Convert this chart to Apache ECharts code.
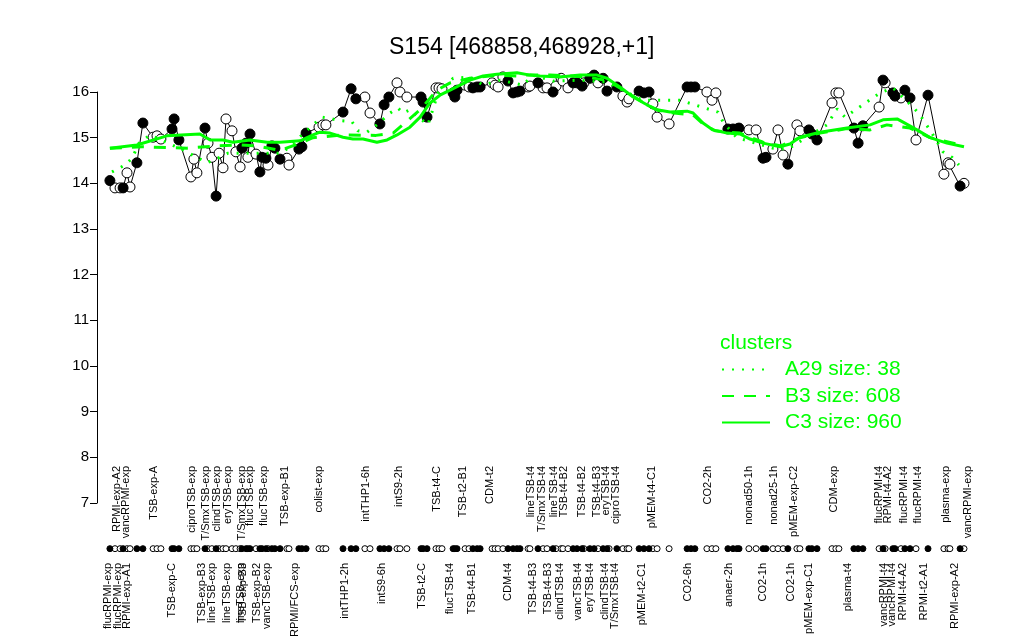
<!DOCTYPE html>
<html>
<head>
<meta charset="utf-8">
<script src="https://cdn.jsdelivr.net/npm/echarts@6/dist/echarts.min.js"></script>
<style>
  html, body { margin: 0; padding: 0; background: #ffffff; }
  #chart { width: 1024px; height: 640px; }
</style>
</head>
<body>
<div id="chart"></div>
<script>
// ---------------- data ----------------
const TITLE = 'S154 [468858,468928,+1]';

// sample positions along the x axis (ordering index scale)
const POS = [4.3,6.0,7.7,8.7,10.0,11.0,13.3,15.3,18.7,20.0,21.3,25.0,25.7,27.3,31.3,32.3,33.3,36.0,37.0,38.3,
  39.7,40.7,42.0,43.0,45.0,46.3,47.7,48.3,49.7,50.3,51.0,53.0,54.3,55.0,56.3,57.0,58.3,59.3,61.0,63.3,
  64.0,67.3,68.3,69.7,74.0,75.3,76.3,82.0,84.7,86.3,89.3,91.0,94.3,95.7,97.3,100.0,101.0,103.3,108.0,108.7,
  110.0,113.0,114.0,115.0,118.7,119.3,120.0,122.7,124.0,125.3,126.7,127.7,131.7,132.7,133.7,135.3,137.0,138.7,140.0,141.0,
  143.7,144.3,147.0,148.7,150.0,152.0,153.0,154.7,155.3,157.0,158.7,160.0,161.7,162.3,164.3,165.7,167.0,168.7,170.0,170.7,
  173.3,175.3,176.7,177.3,180.7,182.3,184.0,185.3,186.7,190.7,196.7,198.0,199.3,203.3,205.0,206.3,210.3,212.0,213.3,214.0,
  217.3,219.7,222.0,223.0,225.3,227.0,228.7,230.3,233.3,234.3,237.3,238.3,240.0,245.0,246.3,247.3,252.3,253.7,255.3,260.7,
  262.0,262.7,265.3,266.0,268.0,269.3,271.0,273.0,277.0,282.3,283.7,284.3,287.7,289.0];

const VALUES = [14.06,13.90,13.90,13.90,14.23,13.92,14.45,15.32,15.01,15.04,14.97,15.19,15.41,14.95,14.14,14.53,14.23,15.21,14.88,14.57,
  13.72,14.66,14.34,15.41,15.15,14.69,14.36,14.77,14.88,14.57,15.08,14.64,14.25,14.57,14.55,14.40,14.82,14.77,14.53,14.55,
  14.40,14.75,14.80,15.10,15.23,15.28,15.28,15.56,16.07,15.85,15.89,15.54,15.30,15.72,15.89,16.20,16.00,15.89,15.89,15.78,
  15.45,16.09,16.09,16.07,15.98,15.89,16.04,16.15,16.11,16.09,16.11,16.11,16.20,16.15,16.11,16.33,16.24,15.98,16.00,16.02,
  16.11,16.13,16.20,16.09,16.09,16.00,16.13,16.30,16.24,16.09,16.20,16.20,16.13,16.20,16.30,16.37,16.20,16.30,16.02,16.15,
  16.11,15.91,15.78,15.85,16.02,15.98,16.00,15.74,15.45,15.30,16.11,16.11,16.11,16.00,15.82,15.98,15.19,15.19,15.19,15.21,
  15.17,15.17,14.55,14.57,14.75,15.17,14.62,14.42,15.28,15.15,15.17,15.08,14.95,15.76,15.98,15.98,15.21,14.88,15.26,15.67,
  16.26,16.20,15.98,15.91,15.87,16.04,15.87,14.95,15.93,14.20,14.45,14.42,13.94,14.00];

// 1 = filled marker, 0 = open marker
const FILLED = [1,0,0,1,0,0,1,1,0,0,0,1,1,1,0,0,0,1,0,0,
  1,0,0,0,0,0,0,1,1,0,1,0,1,1,1,0,1,1,1,0,
  0,1,1,1,0,0,0,1,1,1,0,0,1,1,1,0,0,0,1,1,
  1,0,0,0,1,1,1,0,0,1,1,1,0,0,0,0,1,1,1,1,
  0,0,1,0,0,1,0,0,0,0,1,1,1,0,1,1,0,1,1,0,
  1,0,0,0,1,1,1,0,0,0,1,1,1,0,0,0,1,1,1,1,
  0,0,1,1,0,0,0,1,0,0,1,1,1,0,0,0,1,1,1,0,
  1,0,1,1,0,1,1,0,1,0,0,0,1,0];

// cluster curves
const A29_POS = [5,9.3,11.7,14,17.7,28.7,36.7,41,43.7,61.7,72,75,78.3,81.7,85,87,90,93.3,97.7,100.3,
  102,104.3,110.3,113.7,118.7,124.3,128.7,134.3,142,145.3,152,161,170,175.3,182,194.3,207,208.7,213.3,225.3,
  230.3,243.3,246.7,249.3,261,265.3,272,274.3,278.3,282,285,287.3];
const A29_VAL = [14.25,14.40,14.55,14.88,15.06,14.73,14.45,14.57,14.66,14.66,15.28,15.45,15.41,15.37,15.35,15.15,15.12,15.28,15.54,15.65,
  15.54,15.61,15.28,15.98,16.30,16.33,16.15,16.26,16.15,16.37,16.24,16.26,16.22,16.04,15.82,15.82,15.56,15.34,15.00,14.77,
  14.75,15.28,15.63,15.45,15.98,16.09,15.67,15.50,15.10,14.69,14.57,14.40];

const B3_POS = [4.3,15,30,40,47.7,53.3,61,67.7,72,82,93,98.7,101,107.7,113.3,117.7,124.3,133.3,140,143.3,
  151,163.3,170,174.3,183.3,187,191,198.7,202,206,214.3,222,228,234.3,241,250,257.7,263.3,271,277.7,289];
const B3_VAL = [14.77,14.80,14.77,14.82,14.84,14.82,14.72,14.88,15.00,15.06,15.05,15.10,15.23,15.61,16.04,16.20,16.30,16.37,16.35,16.37,
  16.37,16.33,16.25,16.09,15.72,15.60,15.55,15.50,15.30,15.15,15.10,14.90,14.82,15.00,15.10,15.20,15.17,15.28,15.21,15.00,14.82];

const C3_POS = [4.3,13.3,23.3,34.3,37.7,42,45.3,51,56.7,61,67.7,72,74.3,77.7,82,85.3,88.7,93.3,96.7,100,
  104.3,107.7,111,114.3,117.7,124.3,128.7,133.3,140,144.3,147.7,154.3,161,166.7,170,174.3,178.7,183.3,186.7,191,
  196.7,198.7,202,205.3,210,214.3,217.7,222,227.7,231,234.3,241,250,257.7,262,266.7,268.7,273.3,277.7,283.3,289];
const C3_VAL = [14.77,14.84,15.04,15.08,14.95,14.95,14.90,14.95,14.90,14.90,14.93,15.06,15.12,15.10,15.01,14.97,14.97,14.90,14.95,15.06,
  15.23,15.45,15.76,15.93,16.04,16.26,16.35,16.39,16.42,16.37,16.35,16.33,16.37,16.37,16.30,16.11,15.89,15.72,15.61,15.56,
  15.58,15.54,15.32,15.17,15.10,15.08,14.97,14.88,14.80,14.86,15.01,15.12,15.21,15.28,15.39,15.41,15.34,15.17,15.00,14.88,14.80];

const CLUSTER_NAMES = ['A29 size: 38', 'B3 size: 608', 'C3 size: 960'];

// sample labels (upper row and lower row)
const TOP_LABEL_POS = [6.7,9.7,19,31.7,36.3,40,43.7,48.3,51,55.7,62.7,74,89.7,100.7,113.3,122,131,144.7,148.3,152.3,
  155.7,161.7,166.7,169.7,173,185,203.7,217.3,225.7,232.3,245.7,260.7,263.7,269,273.7,283,290.3];
const TOP_LABELS = ['RPMI-exp-A2','vancRPMI-exp','TSB-exp-A','ciproTSB-exp','T/SmxTSB-exp','clindTSB-exp','eryTSB-exp','T/SmxTSB-exp','flucTSB-exp','flucTSB-exp',
  'TSB-exp-B1','colist-exp','intTHP1-6h','intS9-2h','TSB-t4-C','TSB-t2-B1','CDM-t2','lineTSB-t4','T/SmxTSB-t4','lineTSB-t4',
  'TSB-t4-B2','TSB-t4-B2','TSB-t4-B3','eryTSB-t4','ciproTSB-t4','pMEM-t4-C1','CO2-2h','nonad50-1h','nonad25-1h','pMEM-exp-C2',
  'CDM-exp','flucRPMI-t4','RPMI-t4-A2','flucRPMI-t4','flucRPMI-t4','plasma-exp','vancRPMI-exp'];

const BOTTOM_LABEL_POS = [3.7,7,10,25,35,38.3,43.3,48,48.7,53.3,56.7,66,82.7,95,108.3,117.7,125,137,145.3,150.3,
  154.3,160.3,164.3,169.3,172.7,181.7,197,210.7,222,231.3,237.3,250.3,262.3,265,268.7,275.7,286];
const BOTTOM_LABELS = ['flucRPMI-exp','flucRPMI-exp','RPMI-exp-A1','TSB-exp-C','TSB-exp-B3','lineTSB-exp','lineTSB-exp','lineTSB-exp','TSB-exp-B3','TSB-exp-B2',
  'vancTSB-exp','RPMI/FCS-exp','intTHP1-2h','intS9-6h','TSB-t2-C','flucTSB-t4','TSB-t4-B1','CDM-t4','TSB-t4-B3','TSB-t4-B3',
  'clindTSB-t4','vancTSB-t4','eryTSB-t4','clindTSB-t4','T/SmxTSB-t4','pMEM-t2-C1','CO2-6h','anaer-2h','CO2-1h','CO2-1h',
  'pMEM-exp-C1','plasma-t4','vancRPMI-t4','vancRPMI-t4','RPMI-t4-A2','RPMI-t2-A1','RPMI-exp-A2'];

// ---------------- chart ----------------
const GREEN = '#00ff00';
const FONT = '"Liberation Sans", Arial, Helvetica, sans-serif';
const X_MIN = 0, X_MAX = 293;
const RUG_Y = 6;

const pts = POS.map((x, i) => [x, VALUES[i]]);
const filledPts = pts.filter((_, i) => FILLED[i] === 1);
const openPts = pts.filter((_, i) => FILLED[i] === 0);
const rugFilled = POS.filter((_, i) => FILLED[i] === 1).map(x => [x, RUG_Y]);
const rugOpen = POS.filter((_, i) => FILLED[i] === 0).map(x => [x, RUG_Y]);
const zip = (a, b) => a.map((x, i) => [x, b[i]]);

function nearestLabel(labels, positions, v) {
  let best = 0, bd = Infinity;
  for (let i = 0; i < positions.length; i++) {
    const d = Math.abs(positions[i] - v);
    if (d < bd) { bd = d; best = i; }
  }
  return labels[best];
}

// one label row is split over two axes (even / odd entries) so that
// neighbouring labels never compete in the axis' min/max overlap check
const labelAxes = (labels, positions, offset) => [0, 1].map(parity => {
  const pos = positions.filter((_, i) => i % 2 === parity);
  const lab = labels.filter((_, i) => i % 2 === parity);
  return {
    type: 'value', gridIndex: 0, min: X_MIN, max: X_MAX, position: 'bottom', offset: offset,
    axisLine: { show: false },
    axisTick: { show: false, customValues: pos },
    splitLine: { show: false },
    axisLabel: {
      show: true, rotate: 90, margin: 8, fontSize: 11, color: '#000', fontFamily: FONT,
      hideOverlap: false, showMinLabel: true, showMaxLabel: true,
      customValues: pos,
      formatter: (v) => nearestLabel(lab, pos, v)
    }
  };
});

const chart = echarts.init(document.getElementById('chart'), null, { renderer: 'canvas' });
chart.setOption({
  animation: false,
  backgroundColor: '#ffffff',
  title: [
    { text: TITLE, left: 384, top: 31,
      textStyle: { fontSize: 23, fontWeight: 'normal', color: '#000', fontFamily: FONT } },
    { text: 'clusters', left: 715, top: 328, textStyle: { fontSize: 21, fontWeight: 'normal', color: GREEN, fontFamily: FONT } }
  ],
  legend: {
    orient: 'vertical', left: 716, top: 354,
    itemWidth: 48, itemHeight: 14, itemGap: 5.5,
    itemStyle: { opacity: 0 },
    textStyle: { color: GREEN, fontSize: 21, fontFamily: FONT, padding: [0, 0, 0, 10] },
    data: CLUSTER_NAMES
  },
  grid: { left: 97, right: 48, top: 92, bottom: 137, containLabel: false },
  xAxis: [
    { type: 'value', gridIndex: 0, min: X_MIN, max: X_MAX, show: false },
    ...labelAxes(BOTTOM_LABELS, BOTTOM_LABEL_POS, 52),
    ...labelAxes(TOP_LABELS, TOP_LABEL_POS, -45)
  ],
  yAxis: {
    type: 'value', min: 7, max: 16, interval: 1,
    axisLine: { show: true, lineStyle: { color: '#000', width: 1 } },
    axisTick: { show: true, length: 7, lineStyle: { color: '#000' } },
    axisLabel: { fontSize: 15, color: '#000', margin: 8, fontFamily: FONT },
    splitLine: { show: false }
  },
  series: [
    { name: 'trace', type: 'line', data: pts, symbol: 'none', clip: false, z: 2,
      lineStyle: { color: '#000', width: 1 } },
    { name: 'open', type: 'scatter', data: openPts, symbol: 'circle', symbolSize: 10, clip: false, z: 3,
      itemStyle: { color: '#fff', borderColor: '#000', borderWidth: 1, opacity: 1 } },
    { name: 'filled', type: 'scatter', data: filledPts, symbol: 'circle', symbolSize: 10, clip: false, z: 3,
      itemStyle: { color: '#000', borderColor: '#000', borderWidth: 1, opacity: 1 } },
    { name: 'rugOpen', type: 'scatter', data: rugOpen, symbol: 'circle', symbolSize: 6, clip: false, z: 3,
      itemStyle: { color: '#fff', borderColor: '#000', borderWidth: 1, opacity: 1 } },
    { name: 'rugFilled', type: 'scatter', data: rugFilled, symbol: 'circle', symbolSize: 6, clip: false, z: 3,
      itemStyle: { color: '#000', borderColor: '#000', borderWidth: 1, opacity: 1 } },
    { name: CLUSTER_NAMES[0], type: 'line', data: zip(A29_POS, A29_VAL), symbol: 'none', clip: false, z: 4,
      color: GREEN, lineStyle: { color: GREEN, width: 3, type: [2, 8] } },
    { name: CLUSTER_NAMES[1], type: 'line', data: zip(B3_POS, B3_VAL), symbol: 'none', clip: false, z: 4,
      color: GREEN, lineStyle: { color: GREEN, width: 3, type: [12, 10] } },
    { name: CLUSTER_NAMES[2], type: 'line', data: zip(C3_POS, C3_VAL), symbol: 'none', clip: false, z: 4,
      color: GREEN, lineStyle: { color: GREEN, width: 3 } }
  ]
});
</script>
</body>
</html>
